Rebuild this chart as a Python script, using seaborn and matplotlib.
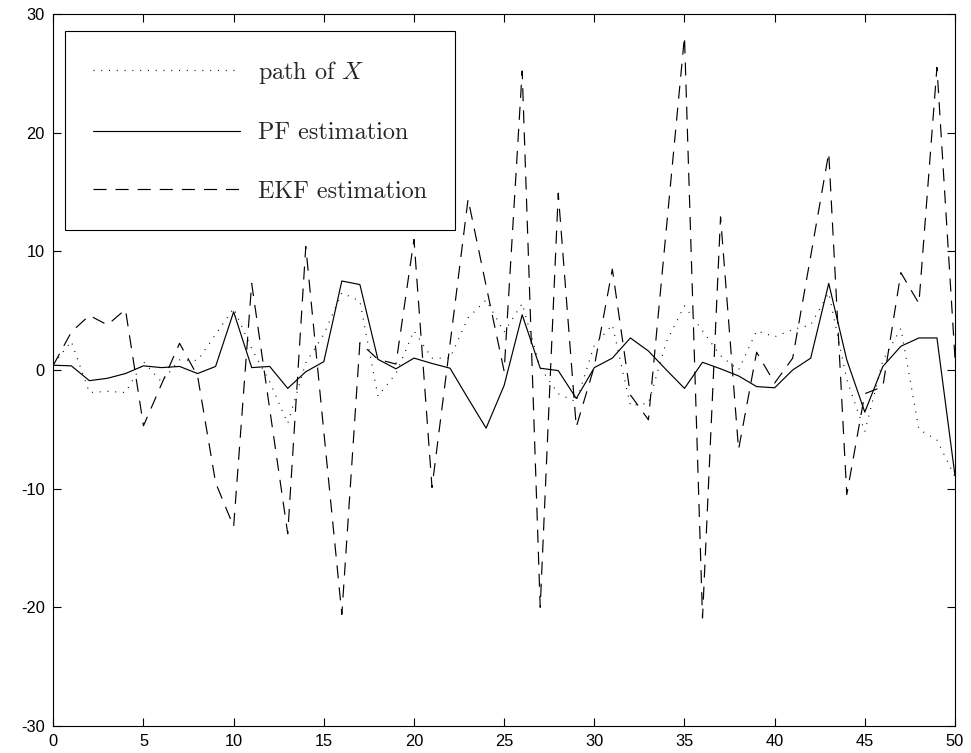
import numpy as np
import pandas as pd
import matplotlib
matplotlib.use("Agg")
import matplotlib.pyplot as plt
import seaborn as sns

# ---- data ----
steps = list(range(0, 51))

path_x = [0.5, 2.4, -1.9, -1.8, -1.9, 0.7, -1.0, 0.85, 0.8, 3.0,
          5.2, 1.8, -1.0, -4.5, 0.6, 3.0, 6.5, 5.8, -2.2, -0.3,
          3.3, 1.0, 1.0, 4.4, 5.9, 3.2, 5.6, 0.2, -2.0, -2.7,
          2.1, 3.8, -3.0, -2.8, 2.4, 5.4, 3.3, 1.2, 0.0, 3.3,
          2.8, 3.4, 3.8, 6.5, -0.8, -5.2, 0.8, 3.5, -5.0, -5.9,
          -9.0]

pf_est = [0.4, 0.35, -0.9, -0.7, -0.3, 0.35, 0.2, 0.3, -0.3, 0.3,
          4.9, 0.2, 0.3, -1.55, -0.15, 0.7, 7.5, 7.2, 0.9, 0.1,
          1.0, 0.55, 0.15, -2.4, -4.9, -1.3, 4.65, 0.15, -0.05, -2.4,
          0.2, 1.0, 2.7, 1.6, 0.0, -1.55, 0.65, 0.1, -0.5, -1.4,
          -1.5, 0.0, 1.0, 7.3, 0.85, -3.55, 0.3, 2.0, 2.7, 2.7,
          -8.9]

ekf_est = [0.4, 3.2, 4.6, 3.8, 5.1, -4.7, -1.2, 2.25, -0.5, -9.5,
           -13.2, 7.3, -3.3, -13.8, 10.4, -5.2, -20.6, 2.3, 0.9, 0.5,
           11.0, -9.9, 2.2, 14.4, 7.1, -0.1, 25.2, -20.0, 14.9, -4.8,
           0.3, 8.5, -2.1, -4.2, 12.0, 28.1, -20.9, 12.9, -6.7, 1.5,
           -1.1, 1.0, 9.6, 18.3, -10.5, -2.0, -1.4, 8.2, 5.6, 25.5,
           1.0]

labels = ["path of $X$", "PF estimation", "EKF estimation"]
xticks = list(range(0, 51, 5))
yticks = list(range(-30, 31, 10))

# ---- styling ----
sns.set_style("ticks")
plt.rcParams["font.family"] = ["Liberation Sans", "DejaVu Sans"]
plt.rcParams["mathtext.fontset"] = "cm"
plt.rcParams["axes.unicode_minus"] = False
plt.rcParams["lines.scale_dashes"] = False

fig = plt.figure(figsize=(9.71, 7.53), dpi=100)
ax = fig.add_axes([0.0549, 0.0359, 0.9286, 0.9455])

lw = 0.85
sns.lineplot(x=steps, y=path_x, ax=ax, color="black", linewidth=lw,
             linestyle=(0, (0.7, 4.9)), label=labels[0])
sns.lineplot(x=steps, y=pf_est, ax=ax, color="black", linewidth=lw,
             linestyle="-", label=labels[1])
sns.lineplot(x=steps, y=ekf_est, ax=ax, color="black", linewidth=lw,
             linestyle=(0, (9.4, 6.5)), label=labels[2])

ax.set_xlim(0, 50)
ax.set_ylim(-30, 30)
ax.set_xticks(xticks)
ax.set_yticks(yticks)
ax.set_xlabel("")
ax.set_ylabel("")
for s in ax.spines.values():
    s.set_visible(True)
    s.set_color("black")
    s.set_linewidth(0.8)
ax.tick_params(direction="in", length=6, width=0.8, top=True, right=True,
               labelsize=11.8, colors="black", pad=6)

leg = ax.legend(loc="upper left", bbox_to_anchor=(0.013, 0.976),
                borderaxespad=0, frameon=True, fancybox=False, shadow=False,
                framealpha=1, edgecolor="black", handlelength=6.1,
                handletextpad=0.75, labelspacing=1.5, borderpad=1.15,
                prop={"family": "cmr10", "size": 17.4})
leg.get_frame().set_linewidth(0.8)

fig.savefig("out.png", dpi=100)
